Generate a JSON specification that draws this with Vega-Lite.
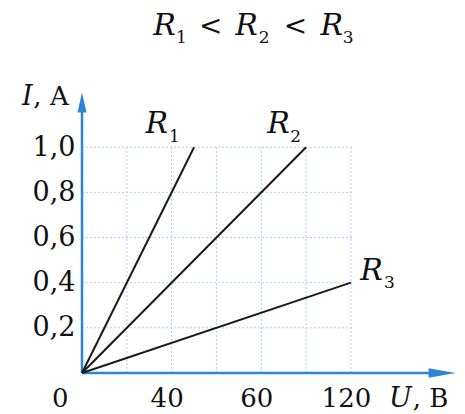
{
  "$schema": "https://vega.github.io/schema/vega-lite/v6.json",
  "width": 372,
  "height": 280,
  "autosize": {"type": "none"},
  "padding": {"left": 82, "top": 93, "right": 11, "bottom": 41},
  "background": "white",
  "config": {"view": {"stroke": null}},
  "datasets": {
    "grid": [
      {"x": 0, "x2": 121, "y": 0.2, "y2": 0.2},
      {"x": 0, "x2": 121, "y": 0.4, "y2": 0.4},
      {"x": 0, "x2": 121, "y": 0.6, "y2": 0.6},
      {"x": 0, "x2": 121, "y": 0.8, "y2": 0.8},
      {"x": 0, "x2": 121, "y": 1.0, "y2": 1.0},
      {"x": 20, "x2": 20, "y": 0, "y2": 1.0},
      {"x": 40, "x2": 40, "y": 0, "y2": 1.0},
      {"x": 60, "x2": 60, "y": 0, "y2": 1.0},
      {"x": 80, "x2": 80, "y": 0, "y2": 1.0},
      {"x": 100, "x2": 100, "y": 0, "y2": 1.0},
      {"x": 120, "x2": 120, "y": 0, "y2": 1.0}
    ],
    "axes": [
      {"x": 0, "x2": 0, "y": 0, "y2": 1.2},
      {"x": 0, "x2": 160, "y": 0, "y2": 0}
    ],
    "lines": [
      {"series": "R1", "x": 0, "y": 0},
      {"series": "R1", "x": 50, "y": 1.0},
      {"series": "R2", "x": 0, "y": 0},
      {"series": "R2", "x": 100, "y": 1.0},
      {"series": "R3", "x": 0, "y": 0},
      {"series": "R3", "x": 120, "y": 0.4}
    ],
    "rLetters": [
      {"x": 31.8, "y": 1.497, "text": "R"},
      {"x": 68.4, "y": 1.497, "text": "R"},
      {"x": 106.4, "y": 1.497, "text": "R"},
      {"x": 28.3, "y": 1.063, "text": "R"},
      {"x": 82.7, "y": 1.063, "text": "R"},
      {"x": 124.2, "y": 0.413, "text": "R"}
    ],
    "subscripts": [
      {"x": 41.9, "y": 1.462, "text": "1"},
      {"x": 78.9, "y": 1.462, "text": "2"},
      {"x": 116.4, "y": 1.462, "text": "3"},
      {"x": 38.8, "y": 1.023, "text": "1"},
      {"x": 92.9, "y": 1.023, "text": "2"},
      {"x": 134.8, "y": 0.377, "text": "3"}
    ],
    "relations": [
      {"x": 57.4, "y": 1.497, "text": "<"},
      {"x": 95.3, "y": 1.497, "text": "<"}
    ],
    "italicRight": [
      {"x": -22.0, "y": 1.187, "text": "I"},
      {"x": 147.2, "y": -0.149, "text": "U"}
    ],
    "uprightLeft": [
      {"x": -21.7, "y": 1.187, "text": ", A"},
      {"x": 147.6, "y": -0.149, "text": ", B"}
    ],
    "uprightCenter": [
      {"x": -9.7, "y": -0.149, "text": "0"}
    ]
  },
  "encoding": {
    "x": {
      "field": "x",
      "type": "quantitative",
      "scale": {"domain": [0, 166], "nice": false, "zero": false},
      "axis": {
        "values": [40, 80, 120],
        "labelExpr": "datum.value == 80 ? '60' : datum.label",
        "domain": false,
        "ticks": false,
        "tickSize": 0,
        "grid": false,
        "title": null,
        "labelFont": "DejaVu Serif",
        "labelFontSize": 26,
        "labelColor": "#111111",
        "labelBaseline": "alphabetic",
        "labelPadding": 33,
        "labelOffset": -5
      }
    },
    "y": {
      "field": "y",
      "type": "quantitative",
      "scale": {"domain": [0, 1.24], "nice": false, "zero": false},
      "axis": {
        "values": [0.2, 0.4, 0.6, 0.8, 1.0],
        "labelExpr": "replace(format(datum.value, '.1f'), '.', ',')",
        "domain": false,
        "ticks": false,
        "tickSize": 0,
        "grid": false,
        "title": null,
        "labelFont": "DejaVu Serif",
        "labelFontSize": 27,
        "labelColor": "#111111",
        "labelPadding": 7
      }
    }
  },
  "layer": [
    {
      "data": {"name": "grid"},
      "mark": {"type": "rule", "color": "#a9d0ee", "strokeWidth": 1, "strokeDash": [2, 2]},
      "encoding": {"x2": {"field": "x2"}, "y2": {"field": "y2"}}
    },
    {
      "data": {"name": "axes"},
      "mark": {"type": "rule", "color": "#2b86d4", "strokeWidth": 2.5},
      "encoding": {"x2": {"field": "x2"}, "y2": {"field": "y2"}}
    },
    {
      "data": {"values": [{"x": 0, "y": 1.198}]},
      "mark": {"type": "point", "shape": "M0,-1L0.45,1L-0.45,1Z", "size": 400, "filled": true, "color": "#2b86d4", "opacity": 1}
    },
    {
      "data": {"values": [{"x": 160.7, "y": 0}]},
      "mark": {"type": "point", "shape": "M1,0L-1,-0.35L-1,0.35Z", "size": 729, "filled": true, "color": "#2b86d4", "opacity": 1}
    },
    {
      "data": {"name": "lines"},
      "mark": {"type": "line", "color": "#1a1a1a", "strokeWidth": 2},
      "encoding": {"detail": {"field": "series"}}
    },
    {
      "data": {"name": "rLetters"},
      "mark": {"type": "text", "font": "DejaVu Serif", "fontStyle": "italic", "fontSize": 30, "align": "left", "baseline": "alphabetic", "color": "#111111"},
      "encoding": {"text": {"field": "text"}}
    },
    {
      "data": {"name": "subscripts"},
      "mark": {"type": "text", "font": "DejaVu Serif", "fontSize": 17, "align": "left", "baseline": "alphabetic", "color": "#111111"},
      "encoding": {"text": {"field": "text"}}
    },
    {
      "data": {"name": "relations"},
      "mark": {"type": "text", "font": "DejaVu Serif", "fontSize": 28, "align": "center", "baseline": "alphabetic", "color": "#111111"},
      "encoding": {"text": {"field": "text"}}
    },
    {
      "data": {"name": "italicRight"},
      "mark": {"type": "text", "font": "DejaVu Serif", "fontStyle": "italic", "fontSize": 27, "align": "right", "baseline": "alphabetic", "color": "#111111"},
      "encoding": {"text": {"field": "text"}}
    },
    {
      "data": {"name": "uprightLeft"},
      "mark": {"type": "text", "font": "DejaVu Serif", "fontSize": 26, "align": "left", "baseline": "alphabetic", "color": "#111111"},
      "encoding": {"text": {"field": "text"}}
    },
    {
      "data": {"name": "uprightCenter"},
      "mark": {"type": "text", "font": "DejaVu Serif", "fontSize": 26, "align": "center", "baseline": "alphabetic", "color": "#111111"},
      "encoding": {"text": {"field": "text"}}
    }
  ]
}
